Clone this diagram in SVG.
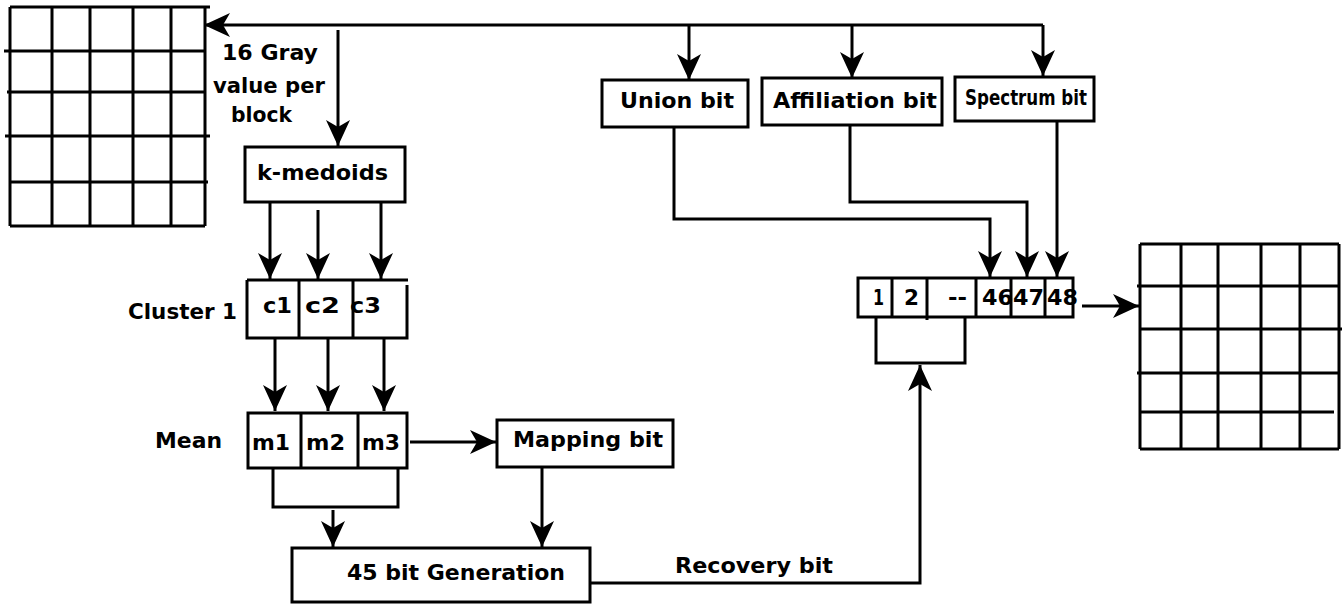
<svg xmlns="http://www.w3.org/2000/svg" width="1343" height="605" viewBox="0 0 1343 605">
<style>
.box{fill:#fff;stroke:#000;stroke-width:3}
.ln{fill:none;stroke:#000;stroke-width:3}
.cn{fill:none;stroke:#000;stroke-width:3;marker-end:url(#ah)}
.t{font-family:"DejaVu Sans",Verdana,sans-serif;font-weight:bold;font-size:22px;fill:#000}
</style>
<defs>
<marker id="ah" viewBox="-27 -13 28 26" refX="0" refY="0" markerWidth="28" markerHeight="26" orient="auto" markerUnits="userSpaceOnUse">
<path d="M0,0 L-26,-12 L-19,0 L-26,12 Z" fill="#000"/>
</marker>
</defs>
<rect width="1343" height="605" fill="#fff"/>

<g id="grid-left">
<path class="ln" d="M10,7 H210 M4,51 H205 M7,92 H205 M5,136 H210 M10,182 H208 M10,226 H205"/>
<path class="ln" d="M10,7 V226 M52,7 V226 M90,7 V226 M133,7 V226 M171,7 V226 M205,7 V226"/>
</g>

<g id="label-gray">
<text class="t" x="222" y="60" textLength="96" lengthAdjust="spacingAndGlyphs">16 Gray</text>
<text class="t" x="213" y="93" textLength="112" lengthAdjust="spacingAndGlyphs">value per</text>
<text class="t" x="231" y="122" textLength="61" lengthAdjust="spacingAndGlyphs">block</text>
</g>

<g id="kmedoids">
<rect class="box" x="245" y="147" width="160" height="55"/>
<text class="t" x="257" y="180" textLength="131" lengthAdjust="spacingAndGlyphs">k-medoids</text>
</g>

<g id="cluster">
<text class="t" x="128" y="319" textLength="109" lengthAdjust="spacingAndGlyphs">Cluster 1</text>
<path class="ln" d="M247,280 H408 M247,280 V338 H407 V285 M299,280 V338"/>
<text class="t" x="263" y="313" textLength="29" lengthAdjust="spacingAndGlyphs">c1</text>
<text class="t" x="305" y="313" textLength="35" lengthAdjust="spacingAndGlyphs">c2</text>
<text class="t" x="350" y="313" textLength="31" lengthAdjust="spacingAndGlyphs">c3</text>
<path class="ln" d="M353,280 V338"/>
</g>

<g id="mean">
<text class="t" x="155" y="448" textLength="67" lengthAdjust="spacingAndGlyphs">Mean</text>
<rect class="box" x="248" y="413" width="159" height="55"/>
<path class="ln" d="M301,413 V468 M358,413 V468"/>
<text class="t" x="252" y="450" textLength="38" lengthAdjust="spacingAndGlyphs">m1</text>
<text class="t" x="306" y="450" textLength="39" lengthAdjust="spacingAndGlyphs">m2</text>
<text class="t" x="362" y="450" textLength="38" lengthAdjust="spacingAndGlyphs">m3</text>
</g>

<g id="mapping">
<rect class="box" x="497" y="420" width="176" height="47"/>
<text class="t" x="513" y="447" textLength="150" lengthAdjust="spacingAndGlyphs">Mapping bit</text>
</g>

<g id="generation">
<rect class="box" x="292" y="548" width="298" height="54"/>
<text class="t" x="347" y="580" textLength="218" lengthAdjust="spacingAndGlyphs">45 bit Generation</text>
</g>

<g id="union">
<rect class="box" x="602" y="80" width="146" height="47"/>
<text class="t" x="620" y="108" textLength="114" lengthAdjust="spacingAndGlyphs">Union bit</text>
</g>

<g id="affiliation">
<rect class="box" x="762" y="78" width="180" height="47"/>
<text class="t" x="773" y="108" textLength="164" lengthAdjust="spacingAndGlyphs">Affiliation bit</text>
</g>

<g id="spectrum">
<rect class="box" x="955" y="77" width="139" height="44"/>
<text class="t" x="965" y="105" textLength="122" lengthAdjust="spacingAndGlyphs">Spectrum bit</text>
</g>

<g id="bit-array">
<rect class="box" x="858" y="278" width="215" height="39"/>
<text class="t" x="873" y="305" textLength="11" lengthAdjust="spacingAndGlyphs">1</text>
<text class="t" x="904" y="305" textLength="15" lengthAdjust="spacingAndGlyphs">2</text>
<text class="t" x="948" y="305" textLength="19" lengthAdjust="spacingAndGlyphs">--</text>
<text class="t" x="982" y="305" textLength="31" lengthAdjust="spacingAndGlyphs">46</text>
<text class="t" x="1013" y="305" textLength="31" lengthAdjust="spacingAndGlyphs">47</text>
<text class="t" x="1047" y="305" textLength="31" lengthAdjust="spacingAndGlyphs">48</text>
<path class="ln" d="M892,278 V317 M927,278 V320 M976,278 V317 M1011,278 V317 M1045,278 V317"/>
</g>

<g id="grid-right">
<path class="ln" d="M1140,244 H1339 M1137,286 H1339 M1140,329 H1342 M1137,373 H1339 M1140,412 H1334 M1140,449 H1339"/>
<path class="ln" d="M1140,244 V449 M1181,244 V449 M1218,244 V449 M1261,244 V449 M1300,244 V449 M1339,244 V449"/>
</g>

<g id="connectors">
<path class="cn" d="M1043,25 H204"/>
<path class="cn" d="M1043,25 V76"/>
<path class="cn" d="M852,25 V78"/>
<path class="cn" d="M689,25 V80"/>
<path class="cn" d="M338,30 V146"/>
<path class="cn" d="M270,202 V279"/>
<path class="cn" d="M318,210 V279"/>
<path class="cn" d="M381,202 V279"/>
<path class="cn" d="M275,338 V411"/>
<path class="cn" d="M328,338 V411"/>
<path class="cn" d="M384,338 V411"/>
<path class="cn" d="M410,442 H496"/>
<path class="ln" d="M273,468 V507 H398 V468"/>
<path class="cn" d="M333,510 V547"/>
<path class="cn" d="M542,467 V547"/>
<path class="cn" d="M590,583 H920 V365"/>
<text class="t" x="675" y="573" textLength="158" lengthAdjust="spacingAndGlyphs">Recovery bit</text>
<path class="ln" d="M876,317 V363 H965 V317"/>
<path class="cn" d="M674,127 V219 H990 V277"/>
<path class="cn" d="M850,125 V202 H1027 V277"/>
<path class="cn" d="M1057,121 V277"/>
<path class="cn" d="M1082,306 H1139"/>
</g>
</svg>
